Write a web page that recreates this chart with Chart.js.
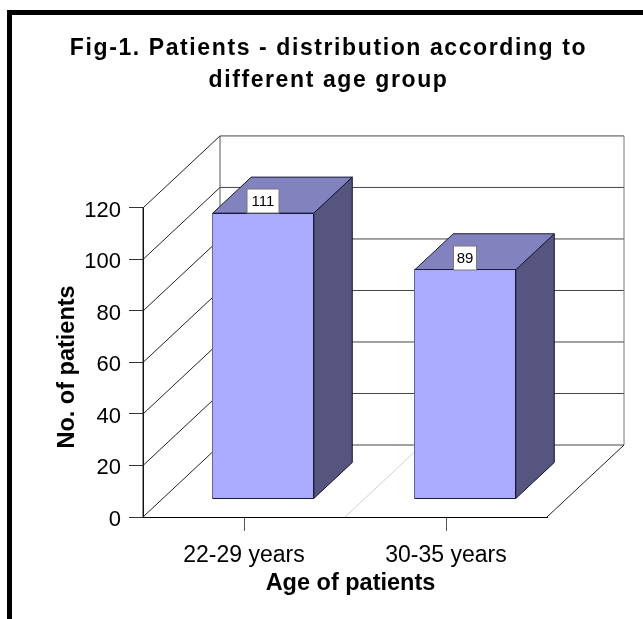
<!DOCTYPE html>
<html><head><meta charset="utf-8">
<style>html,body{margin:0;padding:0;background:#fff}#w{position:absolute;left:0;top:0;width:643px;height:619px}</style>
<script src="https://cdn.jsdelivr.net/npm/chart.js@4"></script>
</head><body><div id="w"><canvas id="c" width="643" height="619"></canvas></div>
<script>
const categories = ["22-29 years", "30-35 years"];
const patients = [111, 89];
const yTickValues = [0, 20, 40, 60, 80, 100, 120];
const titleLines = ["Fig-1. Patients - distribution according to", "different age group"];
const xAxisTitle = "Age of patients";
const yAxisTitle = "No. of patients";

const DEPTH_X = 77, DEPTH_Y = -72;
const FONT = "'Liberation Sans', Arial, sans-serif";

function poly(ctx, pts, fill, stroke, lw) {
  ctx.beginPath();
  pts.forEach((p, i) => i ? ctx.lineTo(p[0], p[1]) : ctx.moveTo(p[0], p[1]));
  ctx.closePath();
  if (fill) { ctx.fillStyle = fill; ctx.fill(); }
  if (stroke) { ctx.strokeStyle = stroke; ctx.lineWidth = lw || 1; ctx.stroke(); }
}
function seg(ctx, x1, y1, x2, y2, c) {
  ctx.beginPath(); ctx.moveTo(x1, y1); ctx.lineTo(x2, y2);
  ctx.strokeStyle = c; ctx.lineWidth = 1; ctx.stroke();
}
function shifted(obj, name, chart, dx, dy) {
  const key = "_w_" + name;
  if (obj[key]) return;
  obj[key] = true;
  const d = obj[name];
  obj[name] = function () {
    const a = arguments;
    chart.ctx.save(); chart.ctx.translate(dx, dy);
    d.apply(this, a);
    chart.ctx.restore();
  };
}

const frame3d = {
  id: "frame3d",
  beforeLayout(chart) {
    const t = chart.titleBlock;
    if (t && !t._ls) {
      t._ls = true;
      const d = t.draw;
      t.draw = function () {
        const c = chart.ctx;
        c.save(); c.translate(55, 0); c.letterSpacing = "1.6px";
        d.call(this);
        c.restore();
      };
    }
  },
  beforeDraw(chart) {
    const ctx = chart.ctx;
    ctx.save();
    ctx.fillStyle = "#000";
    ctx.fillRect(7, 10, 636, 5);
    ctx.fillRect(7, 10, 5, 609);
    ctx.restore();
  },
  beforeDatasetsDraw(chart) {
    const ctx = chart.ctx, y = chart.scales.y, x = chart.scales.x;
    const L = x.left, R = x.right, B = y.getPixelForValue(0), T = y.getPixelForValue(yTickValues[yTickValues.length - 1]);
    ctx.save();
    yTickValues.forEach(v => {
      const py = y.getPixelForValue(v);
      seg(ctx, L, py, L + DEPTH_X, py + DEPTH_Y, "#222");
      seg(ctx, L + DEPTH_X, py + DEPTH_Y, R + DEPTH_X, py + DEPTH_Y, "#444");
    });
    seg(ctx, L + DEPTH_X, T + DEPTH_Y, L + DEPTH_X, B + DEPTH_Y, "#555");
    seg(ctx, R + DEPTH_X, T + DEPTH_Y, R + DEPTH_X, B + DEPTH_Y, "#777");
    seg(ctx, R, B, R + DEPTH_X, B + DEPTH_Y, "#222");
    const mid = (x.getPixelForTick(0) + x.getPixelForTick(1)) / 2;
    seg(ctx, mid, B, mid + DEPTH_X, B + DEPTH_Y, "#cfcfcf");
    seg(ctx, L, T, L, B, "#222");
    const meta = chart.getDatasetMeta(0);
    meta.data.forEach(bar => {
      const bx0 = bar.x - bar.width / 2 + DEPTH_X * 0.25, bx1 = bar.x + bar.width / 2 + DEPTH_X * 0.25;
      const top = bar.y + DEPTH_Y * 0.25, bot = bar.base + DEPTH_Y * 0.25;
      const dx = DEPTH_X * 0.5, dy = DEPTH_Y * 0.5;
      poly(ctx, [[bx1, top], [bx1 + dx, top + dy], [bx1 + dx, bot + dy], [bx1, bot]], "#55557f", "#10102a");
      poly(ctx, [[bx0, top], [bx0 + dx, top + dy], [bx1 + dx, top + dy], [bx1, top]], "#8282bf", "#1a1a3a");
    });
    ctx.restore();
  },
  beforeDatasetDraw(chart) {
    const ctx = chart.ctx;
    ctx.save();
    ctx.translate(DEPTH_X * 0.25, DEPTH_Y * 0.25);
  },
  afterDatasetDraw(chart) { chart.ctx.restore(); },
  afterDatasetsDraw(chart) {
    const ctx = chart.ctx;
    ctx.save();
    chart.getDatasetMeta(0).data.forEach(bar => {
      const x0 = Math.floor(bar.x - bar.width / 2 + DEPTH_X * 0.25) + 0.5, x1 = Math.floor(bar.x + bar.width / 2 + DEPTH_X * 0.25) + 0.5;
      const t = Math.floor(bar.y + DEPTH_Y * 0.25) + 0.5, b = Math.floor(bar.base + DEPTH_Y * 0.25) + 0.5;
      seg(ctx, x0, t, x0, b, "#66668f");
      seg(ctx, x0, t, x1, t, "#1a1a3a");
      seg(ctx, x1, t, x1, b, "#1a1a3a");
      seg(ctx, x0, b, x1, b, "#1a1a3a");
    });
    ctx.font = "15px " + FONT;
    ctx.textAlign = "center";
    ctx.textBaseline = "middle";
    chart.getDatasetMeta(0).data.forEach((bar, i) => {
      const s = String(patients[i]);
      const w = Math.round(ctx.measureText(s).width * 1.4);
      const cx = Math.round(bar.x + DEPTH_X * 0.25), by = Math.round(bar.y + DEPTH_Y * 0.25);
      ctx.fillStyle = "#fff";
      ctx.strokeStyle = "#777";
      ctx.lineWidth = 1;
      ctx.fillRect(cx - w / 2, by - 24, w, 24);
      ctx.strokeRect(cx - w / 2, by - 24, w, 24);
      ctx.fillStyle = "#000";
      ctx.fillText(s, cx, by - 11);
    });
    ctx.restore();
  }
};

new Chart(document.getElementById("c"), {
  type: "bar",
  data: {
    labels: categories,
    datasets: [{
      label: yAxisTitle,
      data: patients,
      backgroundColor: "#aaaaff",
      borderColor: "#aaaaff",
      borderWidth: 0,
      barPercentage: 0.5,
      categoryPercentage: 1
    }]
  },
  plugins: [frame3d],
  options: {
    responsive: false,
    animation: false,
    layout: { padding: { left: 0, right: 96, top: 0, bottom: 0 } },
    plugins: {
      legend: { display: false },
      tooltip: { enabled: false },
      title: {
        display: true,
        text: titleLines,
        color: "#000",
        font: { family: FONT, size: 23, weight: "bold", lineHeight: 1.39 },
        padding: { top: 33, bottom: 111 }
      }
    },
    scales: {
      x: {
        type: "category",
        grid: { display: true, drawOnChartArea: false, drawTicks: true, tickLength: 14, offset: false, color: "#555" },
        border: { display: true, color: "#000" },
        ticks: { color: "#000", font: { family: FONT, size: 23 }, padding: 11, maxRotation: 0 },
        title: { display: true, text: xAxisTitle, color: "#000", font: { family: FONT, size: 23.5, weight: "bold" }, padding: { top: 0, bottom: 21 } },
        afterFit(s) { s.height = 102; shifted(s, "drawTitle", s.chart, 5.5, 0); }
      },
      y: {
        type: "linear",
        min: 0,
        max: 120,
        afterBuildTicks(s) { s.ticks = yTickValues.map(value => ({ value })); },
        grid: { display: true, drawOnChartArea: false, drawTicks: true, tickLength: 14, color: "#333" },
        border: { display: true, color: "#000" },
        ticks: { color: "#000", font: { family: FONT, size: 22 }, padding: 8 },
        title: { display: true, text: yAxisTitle, color: "#000", font: { family: FONT, size: 23.5, weight: "bold" }, padding: { top: 53, bottom: 0 } },
        afterFit(s) {
          s.width = 143;
          shifted(s, "drawTitle", s.chart, 0, 4.5);
          shifted(s, "drawLabels", s.chart, 0, 2.5);
        }
      }
    }
  }
});
</script></body></html>
